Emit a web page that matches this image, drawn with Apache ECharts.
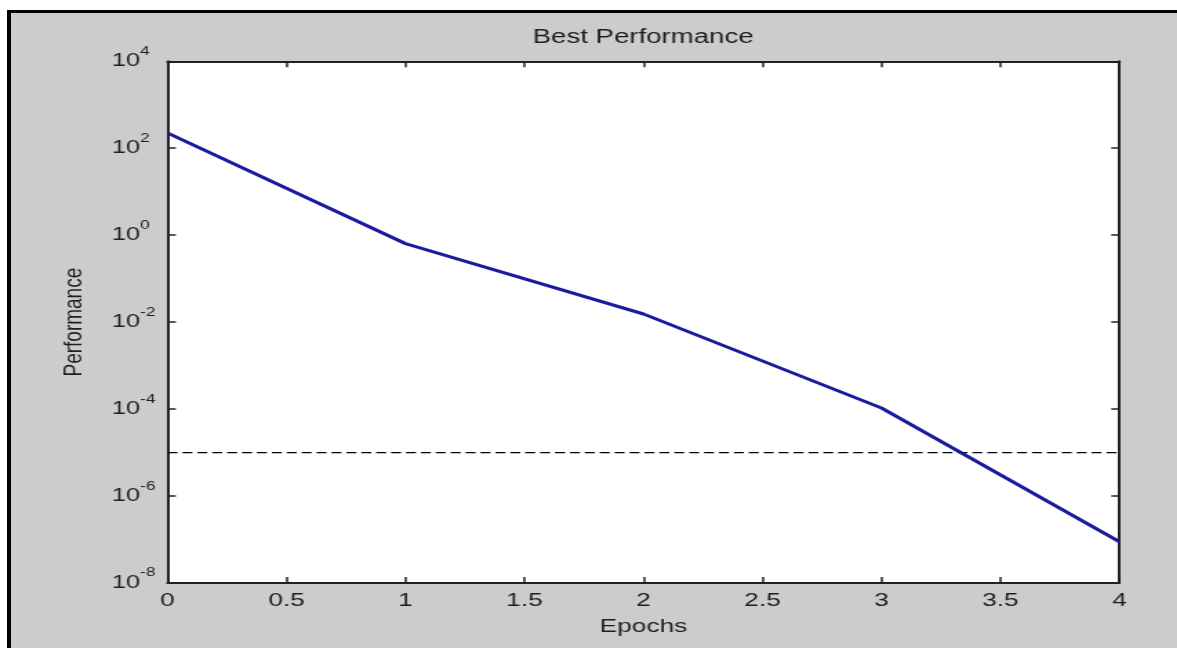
<!DOCTYPE html>
<html>
<head>
<meta charset="utf-8">
<script src="https://cdn.jsdelivr.net/npm/echarts@6/dist/echarts.min.js"></script>
<style>
html,body{margin:0;padding:0;width:1177px;height:648px;overflow:hidden;background:#ffffff;}
#frame{position:absolute;left:7px;top:10px;width:1220px;height:700px;background:#cccccc;border-left:4px solid #000;border-top:3px solid #000;box-sizing:border-box;}
#chart{position:absolute;left:0;top:0;width:852.9px;height:648px;transform:scaleX(1.38);transform-origin:0 0;}
</style>
</head>
<body>
<div id="frame"></div>
<div id="chart"></div>
<script>
// ---- data ----
const epochs = [0, 1, 2, 3, 4];
const performance = [224, 0.64, 0.0154, 1.06e-4, 8.9e-8];
const goal = 1e-5;
const xTickValues = [0, 0.5, 1, 1.5, 2, 2.5, 3, 3.5, 4];
const yTickExponents = [-8, -6, -4, -2, 0, 2, 4];

// ---- styling ----
const FONT = "'Liberation Sans', Arial, Helvetica, sans-serif";
const TXT = '#1e1e1e';
const AX = '#222222';
const axisLine = {show: true, onZero: false, lineStyle: {color: AX, width: 2}};
const axisTick = {show: true, inside: true, length: 6, lineStyle: {color: AX, width: 1.5}};

const xMin = xTickValues[0], xMax = xTickValues[xTickValues.length - 1];
const xStep = xTickValues[1] - xTickValues[0];
const yMin = yTickExponents[0], yMax = yTickExponents[yTickExponents.length - 1];
const yStep = yTickExponents[1] - yTickExponents[0];

const chart = echarts.init(document.getElementById('chart'), null, {renderer: 'canvas'});
chart.setOption({
  animation: false,
  backgroundColor: 'transparent',
  title: {
    text: 'Best Performance',
    left: 461, top: 22, textAlign: 'center',
    textStyle: {fontFamily: FONT, fontSize: 20, fontWeight: 'normal', color: TXT}
  },
  grid: {left: 121.4, right: 41.8, top: 61.3, bottom: 65, show: true, backgroundColor: '#ffffff', borderWidth: 0},
  xAxis: [
    {
      type: 'value', min: xMin, max: xMax, interval: xStep, position: 'bottom',
      name: 'Epochs', nameLocation: 'middle', nameGap: 34,
      nameTextStyle: {fontFamily: FONT, fontSize: 19, color: TXT},
      axisLine: axisLine, axisTick: axisTick,
      axisLabel: {margin: 8, fontFamily: FONT, fontSize: 19, lineHeight: 19, color: TXT},
      splitLine: {show: false}
    },
    {
      type: 'value', min: xMin, max: xMax, interval: xStep, position: 'top',
      axisLine: axisLine, axisTick: axisTick, axisLabel: {show: false}, splitLine: {show: false}
    }
  ],
  yAxis: [
    {
      type: 'value', min: yMin, max: yMax, interval: yStep, position: 'left',
      name: 'Performance', nameLocation: 'middle', nameGap: 58,
      nameTextStyle: {fontFamily: FONT, fontSize: 19, color: TXT},
      axisLine: axisLine, axisTick: axisTick,
      axisLabel: {
        margin: 40.5, align: 'left',
        formatter: function (v) { return '{b|10}{s|' + Math.round(v) + '}'; },
        rich: {
          b: {fontFamily: FONT, fontSize: 18.5, color: TXT},
          s: {fontFamily: FONT, fontSize: 12.5, color: TXT, padding: [0, 0, 20, 0]}
        }
      },
      splitLine: {show: false}
    },
    {
      type: 'value', min: yMin, max: yMax, interval: yStep, position: 'right',
      axisLine: axisLine, axisTick: axisTick, axisLabel: {show: false}, splitLine: {show: false}
    }
  ],
  series: [
    {
      name: 'Goal', type: 'line', xAxisIndex: 0, yAxisIndex: 0, symbol: 'none', z: 2,
      data: [[epochs[0], Math.log10(goal)], [epochs[epochs.length - 1], Math.log10(goal)]],
      lineStyle: {color: '#000000', width: 1.4, type: [7.2, 3.6]}
    },
    {
      name: 'Best', type: 'line', xAxisIndex: 0, yAxisIndex: 0, symbol: 'none', z: 3,
      data: epochs.map(function (e, i) { return [e, Math.log10(performance[i])]; }),
      lineStyle: {color: '#1a1a9e', width: 3}
    }
  ]
});
</script>
</body>
</html>
